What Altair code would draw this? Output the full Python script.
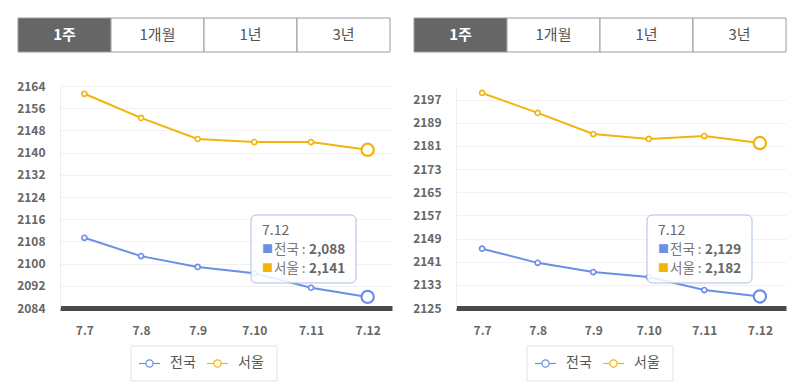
import altair as alt
import pandas as pd

dates = ["7.7", "7.8", "7.9", "7.10", "7.11", "7.12"]
series_names = ["전국", "서울"]
tabs = ["1주", "1개월", "1년", "3년"]

left_national = [2109.3, 2102.7, 2098.8, 2096.5, 2091.3, 2088.0]
left_seoul = [2161.2, 2152.5, 2144.9, 2143.8, 2143.8, 2141.0]
left_ticks = [2084, 2092, 2100, 2108, 2116, 2124, 2132, 2140, 2148, 2156, 2164]

right_national = [2145.5, 2140.6, 2137.4, 2135.7, 2131.2, 2129.0]
right_seoul = [2199.3, 2192.4, 2185.1, 2183.4, 2184.4, 2182.0]
right_ticks = [2125, 2133, 2141, 2149, 2157, 2165, 2173, 2181, 2189, 2197]

BLUE = "#6b8fe6"
GOLD = "#f2b40c"
FONT = "Noto Sans CJK KR"
H = 222


def panel(national, seoul, ticks, domain, width, pad):
    df = pd.DataFrame({
        "date": dates * 2,
        "series": [series_names[0]] * len(dates) + [series_names[1]] * len(dates),
        "value": national + seoul,
    })
    last = df[df["date"] == dates[-1]]

    x = alt.X("date:N", sort=dates,
              scale=alt.Scale(type="point", padding=pad),
              axis=alt.Axis(title=None, labelAngle=0, labelFont=FONT, labelFontSize=12,
                            labelFontWeight="bold", labelColor="#666", labelPadding=17,
                            ticks=False, tickSize=0, grid=False,
                            domainColor="#4a4a4a", domainWidth=5))
    y = alt.Y("value:Q",
              scale=alt.Scale(domain=domain, nice=False, zero=False),
              axis=alt.Axis(title=None, values=ticks, format="d", labelFont=FONT, labelFontSize=12,
                            labelFontWeight="bold", labelColor="#666", labelPadding=15,
                            ticks=False, tickSize=0, grid=True, gridColor="#f1f1f1",
                            domainColor="#eeeeee"))
    cscale = alt.Scale(domain=series_names, range=[BLUE, GOLD])
    stroke = alt.Stroke("series:N", scale=cscale, legend=None)

    base = alt.Chart(df)
    lines = base.mark_line(strokeWidth=2).encode(
        x=x, y=y, color=alt.Color("series:N", scale=cscale, legend=None))
    points = base.mark_point(size=26, filled=False, fill="white", fillOpacity=1,
                             strokeWidth=1.6, opacity=1, shape="circle").encode(
        x=x, y=y, stroke=stroke)

    # tooltip box
    tip_box = alt.Chart(pd.DataFrame({"k": [0]})).mark_rect(
        fill="white", fillOpacity=0.85, stroke="#a9bfe8", strokeWidth=1, cornerRadius=5
    ).encode(x=alt.value(191), x2=alt.value(296), y=alt.value(129), y2=alt.value(197))

    tip_rows = pd.DataFrame({
        "series": series_names,
        "label": [s + " :" for s in series_names],
        "val": [f"{int(round(v)):,}" for v in last["value"].tolist()],
        "row": [0, 1],
    })
    tip_date = alt.Chart(pd.DataFrame({"d": [dates[-1]]})).mark_text(
        align="left", baseline="middle", font=FONT, fontSize=14, color="#666"
    ).encode(x=alt.value(202), y=alt.value(145), text="d:N")
    tb = alt.Chart(tip_rows).transform_calculate(py="164 + datum.row * 19")
    tip_sq = tb.mark_text(text="■", align="left", baseline="middle", font=FONT, fontSize=11).encode(
        x=alt.value(202), y=alt.Y("py:Q", scale=None, axis=None),
        color=alt.Color("series:N", scale=cscale, legend=None))
    tip_lab = tb.mark_text(align="left", baseline="middle", font=FONT, fontSize=13.5, color="#777").encode(
        x=alt.value(214), y=alt.Y("py:Q", scale=None, axis=None), text="label:N")
    tip_val = tb.mark_text(align="left", baseline="middle", font=FONT, fontSize=13.5,
                           fontWeight="bold", color="#666").encode(
        x=alt.value(249), y=alt.Y("py:Q", scale=None, axis=None), text="val:N")

    big = alt.Chart(last).mark_point(size=150, filled=False, fill="white", fillOpacity=1,
                                     strokeWidth=2.2, opacity=1, shape="circle").encode(
        x=x, y=y, stroke=stroke)

    # legend (drawn)
    leg_box = alt.Chart(pd.DataFrame({"k": [0]})).mark_rect(
        fill="white", stroke="#e3e3e3", strokeWidth=1
    ).encode(x=alt.value(71), x2=alt.value(217), y=alt.value(260), y2=alt.value(295))
    lrows = pd.DataFrame({"series": series_names, "i": [0, 1]})
    lb = alt.Chart(lrows).transform_calculate(
        s0="79 + datum.i * 68", s1="100 + datum.i * 68",
        sc="89.5 + datum.i * 68", lx="110 + datum.i * 68")
    lcol = alt.Scale(domain=series_names, range=["#8eaaea", "#ecc13c"])
    leg_rule = lb.mark_rule(strokeWidth=1.2).encode(
        x=alt.X("s0:Q", scale=None, axis=None), x2="s1:Q", y=alt.value(277.5),
        stroke=alt.Stroke("series:N", scale=lcol, legend=None))
    leg_pt = lb.mark_point(shape="circle", size=52, filled=False, fill="white", fillOpacity=1,
                           strokeWidth=1.2, opacity=1).encode(
        x=alt.X("sc:Q", scale=None, axis=None), y=alt.value(277.5),
        stroke=alt.Stroke("series:N", scale=lcol, legend=None))
    leg_txt = lb.mark_text(align="left", baseline="middle", font=FONT, fontSize=14,
                           color="#555").encode(
        x=alt.X("lx:Q", scale=None, axis=None), y=alt.value(277), text="series:N")

    # tabs
    tdf = pd.DataFrame({"tab": tabs, "i": list(range(len(tabs)))})
    tbase = alt.Chart(tdf).transform_calculate(
        x0="-42 + datum.i * 93", x1="-42 + (datum.i + 1) * 93", xc="-42 + (datum.i + 0.5) * 93")
    tab_rect = tbase.mark_rect(stroke="#9a9a9a", strokeWidth=1).encode(
        x=alt.X("x0:Q", scale=None, axis=None), x2="x1:Q",
        y=alt.value(-68), y2=alt.value(-34),
        fill=alt.condition("datum.i == 0", alt.value("#666666"), alt.value("white")))
    tab_on = tbase.transform_filter("datum.i == 0").mark_text(
        font=FONT, fontSize=15, fontWeight="bold", baseline="middle", color="white").encode(
        x=alt.X("xc:Q", scale=None, axis=None), y=alt.value(-51), text="tab:N")
    tab_off = tbase.transform_filter("datum.i > 0").mark_text(
        font=FONT, fontSize=15, baseline="middle", color="#555555").encode(
        x=alt.X("xc:Q", scale=None, axis=None), y=alt.value(-51), text="tab:N")

    return alt.layer(lines, points, tip_box, tip_date, tip_sq, tip_lab, tip_val, big,
                     leg_box, leg_rule, leg_pt, leg_txt,
                     tab_rect, tab_on, tab_off).properties(width=width, height=H)


left = panel(left_national, left_seoul, left_ticks, [2084, 2164], 332, 0.43)
right = panel(right_national, right_seoul, right_ticks, [2125, 2201.7], 330, 0.47)

chart = alt.hconcat(left, right, spacing=20).properties(
    padding={"left": 8, "top": 9, "right": 2, "bottom": 2}
).configure_view(stroke=None)

chart.save("out.html", embed_options={"renderer": "svg", "actions": False})
